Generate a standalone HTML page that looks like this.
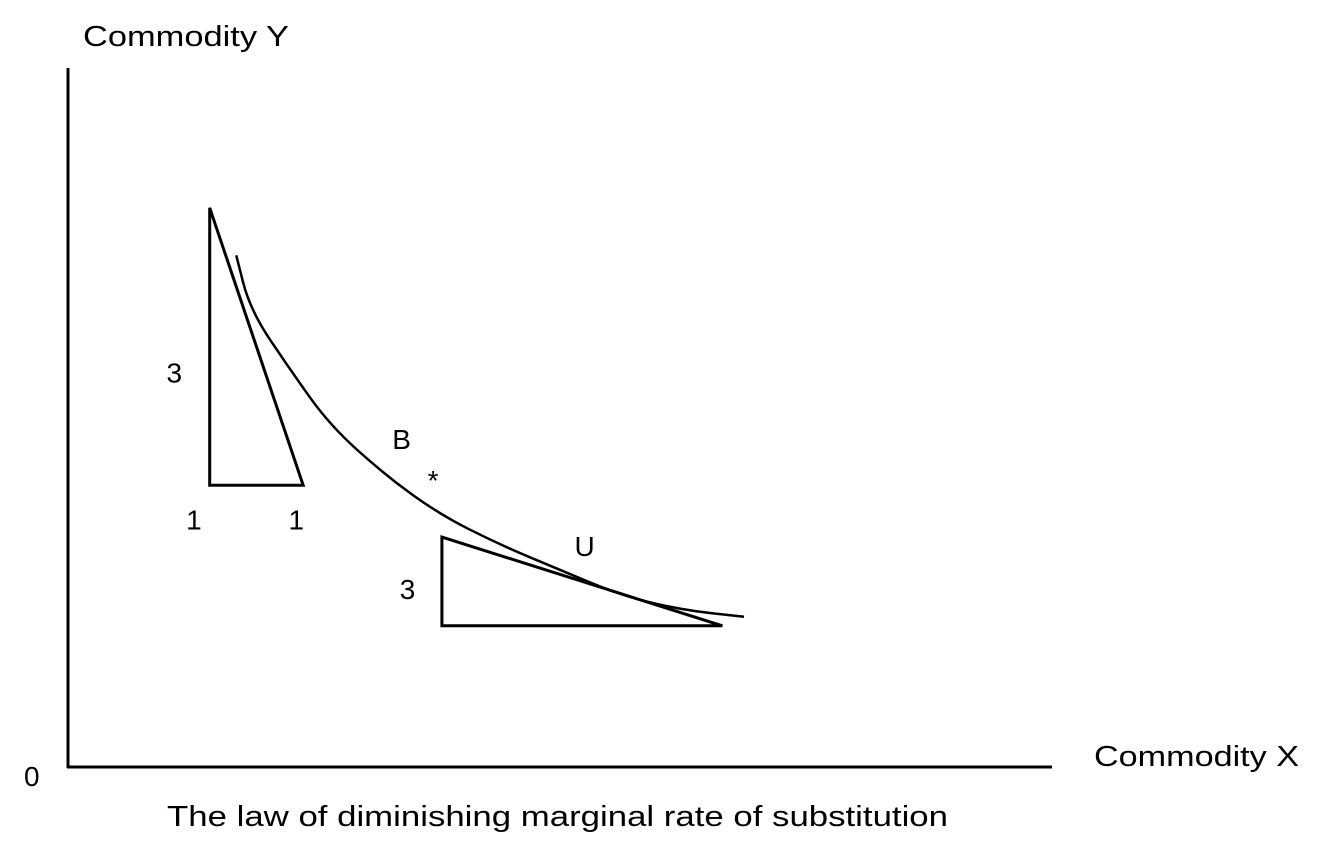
<!DOCTYPE html>
<html><head><meta charset="utf-8"><style>
html,body{margin:0;padding:0;background:#fff;}
svg{display:block;font-family:"Liberation Sans",sans-serif;}
</style></head><body>
<svg id="chart" width="1322" height="860" viewBox="0 0 1322 860" xmlns="http://www.w3.org/2000/svg">
<line x1="68" y1="68" x2="68" y2="768" stroke="#000" stroke-width="3"/>
<line x1="67" y1="767" x2="1052" y2="767" stroke="#000" stroke-width="3"/>
<text x="83" y="46" font-size="29" textLength="206" lengthAdjust="spacingAndGlyphs">Commodity Y</text>
<text x="1094" y="766" font-size="29" textLength="205" lengthAdjust="spacingAndGlyphs">Commodity X</text>
<text x="24" y="786" font-size="28">0</text>
<text x="167" y="826" font-size="29" textLength="781" lengthAdjust="spacingAndGlyphs">The law of diminishing marginal rate of substitution</text>
<g id="marks"></g>
<g id="labels" font-size="28"></g>
</svg>
<script>
// data units: x 0..100, y 0..100
const curveX = [17.1, 18.5, 22.6, 26.6, 32.2, 37.8, 43.9, 50.0, 56.1, 62.2, 68.7];
const curveY = [73.2, 65.4, 56.8, 48.9, 41.8, 36.1, 31.8, 28.2, 24.6, 22.5, 21.5];
const tri1X = [14.4, 14.4, 23.9];
const tri1Y = [80.0, 40.3, 40.3];
const tri2X = [38.0, 38.0, 66.5];
const tri2Y = [32.9, 20.2, 20.2];
const labelText = ["3", "1", "1", "B", "*", "U", "3"];
const labelX = [10.8, 12.8, 23.2, 33.9, 37.1, 52.5, 34.5];
const labelY = [55.0, 34.0, 34.0, 45.5, 39.6, 30.2, 24.0];

const NS = "http://www.w3.org/2000/svg";
function xs(v){ return 68 + v * 9.84; }
function ys(v){ return 767 - v * 6.99; }
const marks = document.getElementById('marks');

let d = "";
for (let i = 0; i < curveX.length; i++) {
  const px = xs(curveX[i]), py = ys(curveY[i]);
  if (i === 0) d += "M" + px + " " + py;
  else {
    const ppx = xs(curveX[i-1]), ppy = ys(curveY[i-1]);
    const mx = (ppx + px) / 2, my = (ppy + py) / 2;
    d += " Q" + ppx + " " + ppy + " " + mx + " " + my;
  }
}
d += " L" + xs(curveX[curveX.length-1]) + " " + ys(curveY[curveY.length-1]);
const curve = document.createElementNS(NS, 'path');


curve.setAttribute('d', d);
curve.setAttribute('fill', 'none');
curve.setAttribute('stroke', '#000');
curve.setAttribute('stroke-width', '2.5');
marks.appendChild(curve);

function tri(X, Y, name){
  const p = document.createElementNS(NS, 'polygon');
  
  
  p.setAttribute('points', X.map((v,i)=> xs(v)+","+ys(Y[i])).join(" "));
  p.setAttribute('fill', 'none');
  p.setAttribute('stroke', '#000');
  p.setAttribute('stroke-width', '3');
  marks.appendChild(p);
}
tri(tri1X, tri1Y, 'triangle-upper');
tri(tri2X, tri2Y, 'triangle-lower');

const lg = document.getElementById('labels');
for (let i = 0; i < labelText.length; i++) {
  const t = document.createElementNS(NS, 'text');
  
  
  t.setAttribute('x', xs(labelX[i]));
  t.setAttribute('y', ys(labelY[i]));
  t.setAttribute('text-anchor', 'middle');
  t.textContent = labelText[i];
  lg.appendChild(t);
}
</script>
</body></html>
